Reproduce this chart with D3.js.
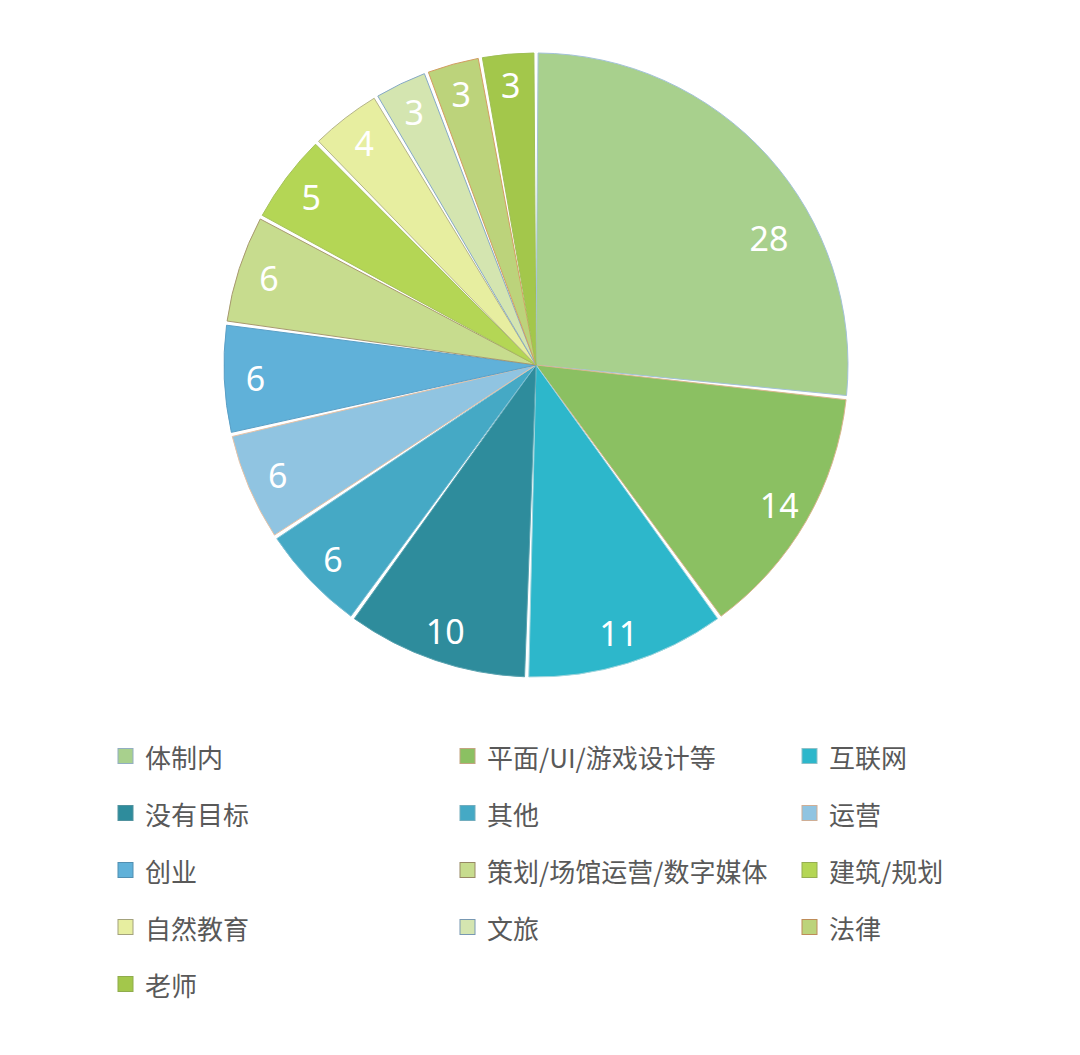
<!DOCTYPE html>
<html>
<head>
<meta charset="utf-8">
<script src="https://cdn.jsdelivr.net/npm/d3@7/dist/d3.min.js"></script>
<style>
  html, body { margin: 0; padding: 0; background: #ffffff; }
  svg { display: block; }
</style>
</head>
<body>
<svg id="chart" width="1080" height="1055"></svg>
<script>
const categories = ["体制内", "平面/UI/游戏设计等", "互联网", "没有目标", "其他", "运营", "创业",
  "策划/场馆运营/数字媒体", "建筑/规划", "自然教育", "文旅", "法律", "老师"];
const values = [28, 14, 11, 10, 6, 6, 6, 6, 5, 4, 3, 3, 3];
const colors = ["#a8d08d", "#8bc062", "#2db7cb", "#2e8c9c", "#45a9c5", "#90c4e1", "#60b1d9",
  "#c7dc8e", "#b4d655", "#e7eea0", "#d4e5b0", "#bcd37b", "#a3c74b"];
const outlines = ["#a3c2d8", "#d9b68e", "#9fd6de", "#5aa3b0", "#7fc0d4", "#e6c2a6", "#5a9fc6",
  "#a8996f", "#a6c25a", "#b5b48a", "#86a9c6", "#d39c62", "#9fbf55"];

const svg = d3.select("#chart");
const cx = 536, cy = 365, R = 312;

const pie = d3.pie().value(d => d).sort(null);
const arcs = pie(values);

const arc = d3.arc()
  .innerRadius(0)
  .outerRadius(R)
  .padAngle(0.0135)
  .padRadius(R);

const g = svg.append("g").attr("transform", `translate(${cx},${cy})`);

g.selectAll("path.slice")
  .data(arcs)
  .join("path")
  .attr("class", "slice")
  .attr("d", arc)
  .attr("fill", (d, i) => colors[i])
  .attr("stroke", (d, i) => outlines[i])
  .attr("stroke-width", 1);

// labels
const labelArc = d3.arc().innerRadius(R * 0.9).outerRadius(R * 0.9);
g.selectAll("text.val")
  .data(arcs)
  .join("text")
  .attr("class", "val")
  .attr("transform", (d, i) => {
    let p;
    if (i === 0) {
      // largest slice label sits further round and slightly inward
      const a = d.startAngle + (d.endAngle - d.startAngle) * 0.64;
      const r = R * 0.85;
      p = [Math.sin(a) * r, -Math.cos(a) * r];
    } else {
      p = labelArc.centroid(d);
    }
    return `translate(${p[0]},${p[1]})`;
  })
  .attr("text-anchor", "middle")
  .attr("dominant-baseline", "central")
  .attr("fill", "#ffffff")
  .attr("font-family", "'Noto Sans', 'Open Sans', sans-serif")
  .attr("font-size", 34)
  .text(d => d.data);

// legend
const colX = [118, 460, 802];
const rowY0 = 756, rowStep = 57;
const legend = svg.append("g");
const items = legend.selectAll("g.item")
  .data(categories)
  .join("g")
  .attr("class", "item")
  .attr("transform", (d, i) => `translate(${colX[i % 3]},${rowY0 + Math.floor(i / 3) * rowStep})`);

items.append("rect")
  .attr("x", 0).attr("y", -7.5)
  .attr("width", 15).attr("height", 15)
  .attr("fill", (d, i) => colors[i])
  .attr("stroke", (d, i) => d3.color(outlines[i]).darker(0.3))
  .attr("stroke-width", 1);

items.append("text")
  .attr("x", 27)
  .attr("y", 0)
  .attr("dominant-baseline", "central")
  .attr("fill", "#595959")
  .attr("font-family", "'Noto Sans CJK SC', 'Noto Sans', sans-serif")
  .attr("font-size", 26)
  .text(d => d);
</script>
</body>
</html>
